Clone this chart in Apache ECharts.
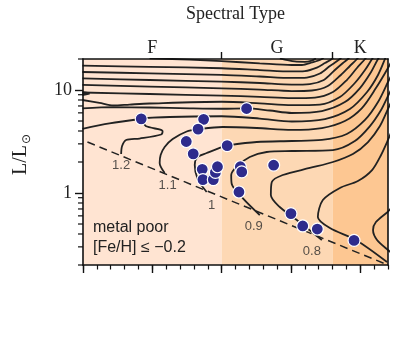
<!DOCTYPE html>
<html><head><meta charset="utf-8">
<script src="https://cdn.jsdelivr.net/npm/echarts/dist/echarts.min.js"></script>
<style>html,body{margin:0;padding:0;background:#fff}#c{width:415px;height:344px}</style>
</head><body><div id="c"></div>
<script>
// ---------- data (Teff [K], log10 L/Lsun) ----------
const spectralTypes = ['F', 'G', 'K'];
const spectralBounds = [7000, 6000, 5200, 4800];
const spectralLabelTeff = [6500, 5600, 5000];
const regionColors = ['#FFE4D2', '#FDD8B4', '#FDC792'];
const xMajorTicks = [5000, 5500, 6000, 6500, 7000];
const xMinorTicks = [4800,4900,5000,5100,5200,5300,5400,5500,5600,5700,5800,5900,6000,6100,6200,6300,6400,6500,6600,6700,6800,6900,7000];
const yLabelL = [1, 10];
const yMinorL = [0.2,0.3,0.4,0.5,0.6,0.7,0.8,0.9,2,3,4,5,6,7,8,9,20];
const lRange = [0.2, 20];

const zams = [[6968, 0.495], [4800, -0.699]];

const trackU0 = [[5580,1.306],[5472,1.277],[5400,1.274],[5349,1.286],[5320,1.306]];
const trackU1 = [[6520,1.308],[6231,1.295],[6000,1.280],[5725,1.259],[5494,1.243],[5421,1.243],[5349,1.267],[5277,1.301],[5248,1.34]];
const trackU2 = [[7004,1.236],[6520,1.225],[6000,1.211],[5725,1.194],[5494,1.180],[5400,1.184],[5313,1.218],[5255,1.262],[5205,1.301],[5183,1.340]];
const trackU3 = [[7004,1.175],[6520,1.162],[6000,1.146],[5725,1.131],[5494,1.117],[5385,1.121],[5291,1.160],[5219,1.233],[5147,1.301],[5125,1.340]];
const trackU4 = [[7004,1.112],[6520,1.097],[6000,1.081],[5725,1.068],[5494,1.053],[5364,1.058],[5263,1.097],[5183,1.194],[5125,1.262],[5089,1.301],[5068,1.340]];
const trackU5 = [[7004,1.049],[6520,1.033],[6000,1.016],[5725,1.004],[5494,0.990],[5349,0.995],[5234,1.039],[5140,1.146],[5075,1.233],[5024,1.301],[5002,1.340]];
const hookU6 = [[7004,0.953],[6953,0.967],[7004,0.977]];
const trackU6 = [[7004,0.976],[6520,0.961],[6000,0.945],[5725,0.934],[5494,0.922],[5327,0.927],[5197,0.981],[5097,1.097],[5024,1.214],[4966,1.301],[4944,1.340]];
const trackU7 = [[7004,0.903],[6881,0.874],[6780,0.850],[6664,0.859],[6520,0.869],[6000,0.886],[5725,0.871],[5494,0.854],[5291,0.859],[5147,0.932],[5039,1.068],[4966,1.194],[4915,1.301],[4894,1.340]];
const trackU8 = [[7004,0.822],[6780,0.833],[6520,0.830],[6231,0.822],[6000,0.818],[5819,0.822],[5653,0.801],[5494,0.777],[5277,0.796],[5111,0.883],[5002,1.019],[4922,1.175],[4872,1.301],[4850,1.340]];
const armToA = [[7004,0.623],[6809,0.675],[6577,0.721]];
const track12 = [[6725,0.379],[6718,0.456],[6689,0.515],[6592,0.529],[6436,0.568],[6426,0.602],[6548,0.650],[6570,0.709],[6577,0.721],[6375,0.738],[6000,0.745],[5725,0.723],[5494,0.694],[5255,0.718],[5075,0.816],[4951,0.981],[4872,1.146],[4822,1.301],[4807,1.359]];
const track11 = [[6411,0.194],[6447,0.291],[6440,0.369],[6411,0.447],[6353,0.524],[6252,0.597],[6171,0.618],[5992,0.641],[5747,0.631],[5494,0.612],[5277,0.631],[5111,0.699],[4988,0.825],[4887,1.019],[4800,1.214],[4771,1.291]];
const track10 = [[6108,0.010],[6173,0.136],[6194,0.272],[6173,0.350],[6108,0.388],[5992,0.451],[5956,0.463],[5747,0.495],[5494,0.505],[5277,0.515],[5097,0.573],[4966,0.709],[4872,0.883],[4800,1.078],[4771,1.155]];
const track09 = [[5725,-0.214],[5848,-0.049],[5927,0.087],[5931,0.175],[5891,0.257],[5797,0.350],[5675,0.398],[5494,0.408],[5197,0.417],[5039,0.505],[4930,0.650],[4850,0.806],[4800,0.942],[4771,1.019]];
const track08 = [[5277,-0.456],[5458,-0.262],[5581,-0.136],[5645,-0.019],[5638,0.107],[5559,0.175],[5364,0.243],[5197,0.301],[5053,0.379],[4944,0.495],[4858,0.650],[4800,0.816],[4771,0.903]];
const trackC = [[4807,-0.670],[5032,-0.456],[5219,-0.340],[5306,-0.233],[5270,-0.068],[5147,0.049],[5017,0.117],[4915,0.223],[4850,0.369],[4800,0.515],[4771,0.612]];
const trackD = [[4771,-0.136],[4800,-0.180],[4887,-0.282],[4908,-0.359],[4879,-0.456],[4800,-0.553],[4771,-0.583]];

const massLabels = ['1.2', '1.1', '1', '0.9', '0.8'];
const massTracks = [track12, track11, track10, track09, track08];
const massLabelOffsets = [[0, 11], [3, 12], [5, 13], [-6, 11], [-10, 11]];

const stars = [[6580,0.72],[6130,0.715],[6170,0.62],[6255,0.50],[6205,0.38],[5960,0.46],[5820,0.82],[6140,0.23],[6135,0.13],[6060,0.13],[6045,0.20],[6030,0.255],[5865,0.255],[5855,0.205],[5875,0.01],[5625,0.27],[5500,-0.20],[5415,-0.32],[5310,-0.35],[5045,-0.46]];

// ---------- chart ----------
const lg = Math.log10;
const chart = echarts.init(document.getElementById('c'), null, {renderer: 'canvas'});
const AX = '#111';
const lineSeries = (d, extra) => Object.assign({
  type: 'line', data: d, showSymbol: false, symbol: 'none', smooth: 0.3,
  lineStyle: {color: '#222', width: 1.8}, silent: true, z: 3, clip: true
}, extra || {});
const tracks = [trackU0, trackU1, trackU2, trackU3, trackU4, trackU5, trackU6, trackU7, trackU8, armToA, track12, track11, track10, track09, track08, trackC, trackD];

const series = [
  {
    type: 'line', data: [], silent: true, z: 1,
    markArea: {
      silent: true,
      data: spectralTypes.map((s, i) => [
        {xAxis: spectralBounds[i], yAxis: lg(lRange[0]), itemStyle: {color: regionColors[i]}},
        {xAxis: spectralBounds[i + 1], yAxis: lg(lRange[1])}
      ])
    }
  },
  ...tracks.map(t => lineSeries(t)),
  lineSeries(hookU6, {smooth: false, lineStyle: {color: '#222', width: 2.2}}),
  lineSeries(zams, {smooth: false, z: 4, lineStyle: {color: '#222', width: 1.5, type: [8, 5]}}),
  {
    type: 'scatter', data: stars, symbolSize: 12, z: 6, silent: true,
    itemStyle: {color: '#2E2B8C', borderColor: '#fff', borderWidth: 1.2, opacity: 1}
  },
  {
    type: 'scatter', z: 7, silent: true, symbolSize: 0,
    data: massTracks.map((t, i) => ({
      value: t[0],
      label: {show: true, position: 'inside', offset: massLabelOffsets[i], formatter: massLabels[i]}
    })),
    label: {color: '#2a2a2a', fontFamily: 'Liberation Sans', fontSize: 13}
  }
];

const tickAxis = (pos, values, len, w, lineShow) => ({
  type: 'value', position: pos, z: 10,
  axisLine: {show: lineShow, onZero: false, lineStyle: {color: AX, width: 1.6}},
  axisTick: {show: true, inside: false, customValues: values, length: len, lineStyle: {color: AX, width: w}},
  axisLabel: {show: false}, splitLine: {show: false}
});
const xA = o => Object.assign(o, {min: 4800, max: 7000, inverse: true});
const yA = o => Object.assign(o, {min: lg(lRange[0]), max: lg(lRange[1])});

const topAx = xA(tickAxis('top', [spectralBounds[1], spectralBounds[2]], 7, 1.4, true));
topAx.axisLabel = {show: true, customValues: spectralLabelTeff, margin: 2,
  formatter: v => spectralTypes[spectralLabelTeff.indexOf(v)],
  fontFamily: 'Liberation Serif', fontSize: 18, color: '#222'};
const leftAx = yA(tickAxis('left', yLabelL.map(lg), 8, 1.4, true));
leftAx.axisLabel = {show: true, customValues: yLabelL.map(lg), margin: 11,
  formatter: v => String(Math.round(Math.pow(10, v))),
  fontFamily: 'Liberation Serif', fontSize: 18, color: '#222'};
const rightAx = yA(tickAxis('right', [], 0, 1, true));
rightAx.axisTick = {show: false};

const textGraphics = [
  {type: 'text', x: 235.5, y: 14, z: 20,
   style: {text: 'Spectral Type', fill: '#222', font: '18px "Liberation Serif"',
     align: 'center', verticalAlign: 'middle', textAlign: 'center', textVerticalAlign: 'middle'}},
  {type: 'group', x: 21, y: 160, rotation: Math.PI / 2, z: 20, children: [
    {type: 'text', x: 0, y: 0,
     style: {text: 'L/L', fill: '#222', font: '20px "Liberation Serif"',
       align: 'center', verticalAlign: 'middle', textAlign: 'center', textVerticalAlign: 'middle'}},
    {type: 'text', x: 21, y: 6,
     style: {text: '\u2299', fill: '#222', font: '12px "DejaVu Sans"',
       align: 'center', verticalAlign: 'middle', textAlign: 'center', textVerticalAlign: 'middle'}}
  ]},
  {type: 'text', x: 93, y: 228, z: 20,
   style: {text: 'metal poor', fill: '#222', font: '16px "Liberation Sans"',
     align: 'left', verticalAlign: 'middle', textAlign: 'left', textVerticalAlign: 'middle'}},
  {type: 'text', x: 93, y: 247.5, z: 20,
   style: {text: '[Fe/H] \u2264 \u22120.2', fill: '#222', font: '16px "Liberation Sans"',
     align: 'left', verticalAlign: 'middle', textAlign: 'left', textVerticalAlign: 'middle'}}
];

const option = {
  animation: false,
  backgroundColor: '#fff',
  grid: {left: 83, right: 27, top: 59, bottom: 79},
  xAxis: [
    xA(tickAxis('bottom', xMajorTicks, 8, 1.4, true)),
    xA(tickAxis('bottom', xMinorTicks, 4.5, 1.2, false)),
    topAx
  ],
  yAxis: [leftAx, rightAx],
  series: series,
  graphic: textGraphics
};
chart.setOption(option);

// minor log ticks on the left axis, positioned through the chart's own y scale
const minorTickGraphics = yMinorL.map(v => {
  const p = chart.convertToPixel({gridIndex: 0}, [spectralBounds[0], lg(v)]);
  return {type: 'line', z: 20, silent: true,
    shape: {x1: p[0] - 5, y1: p[1], x2: p[0], y2: p[1]},
    style: {stroke: AX, lineWidth: 1.2}};
});
chart.setOption({graphic: textGraphics.concat(minorTickGraphics)});
</script></body></html>
